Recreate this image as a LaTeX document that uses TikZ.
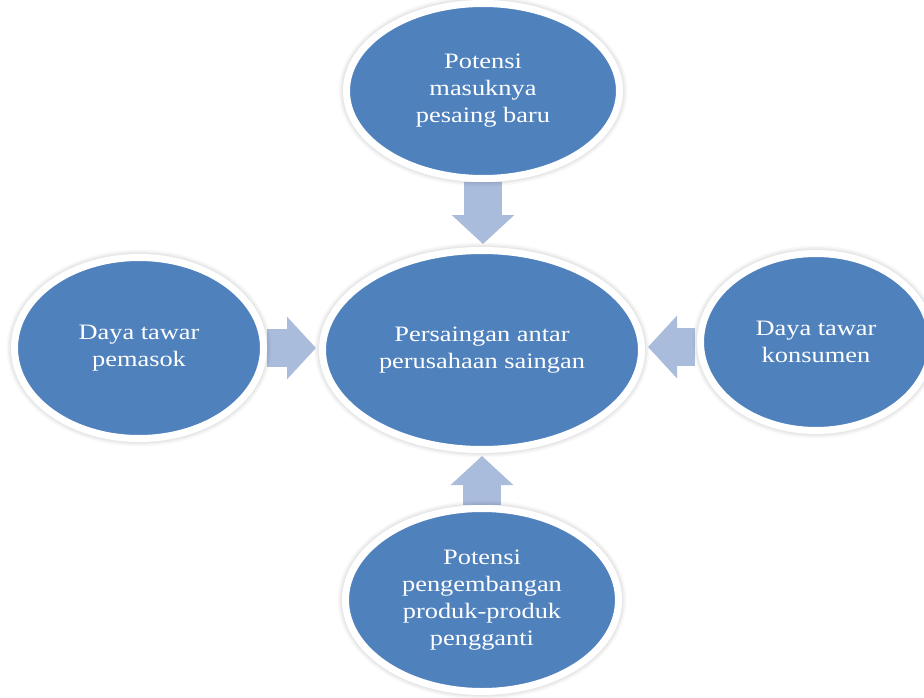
\documentclass[tikz,border=0pt]{standalone}
\usepackage{fontspec}
\setmainfont[FakeStretch=1.2]{Liberation Serif}
\usetikzlibrary{arrows.meta,calc,shapes.geometric}
\definecolor{ellblue}{RGB}{79,129,189}
\definecolor{arrowblue}{RGB}{169,188,220}
\pgfdeclarelayer{background}
\pgfsetlayers{background,main}
\begin{document}
\begin{tikzpicture}[x=1pt,y=-1pt,
  bubble/.style={ellipse, fill=ellblue, draw=white, line width=7pt, inner sep=0pt,
     align=center, text=white, font=\fontsize{22}{27}\selectfont,
     preaction={draw=black, draw opacity=0.025, line width=16pt},
     preaction={draw=black, draw opacity=0.03, line width=13pt},
     preaction={draw=black, draw opacity=0.04, line width=10pt}},
  blockarrow/.style={draw=arrowblue, line width=38pt,
     -{Triangle[width=61pt,length=29pt]}, shorten >=3pt}]
\useasboundingbox (0,0) rectangle (924,698);
\node[bubble, minimum width=273pt, minimum height=175pt] (top) at (483,91)
  {Potensi\\masuknya\\pesaing baru};
\node[bubble, minimum width=319pt, minimum height=199pt] (center) at (482,350)
  {Persaingan antar\\perusahaan saingan};
\node[bubble, minimum width=249pt, minimum height=181pt] (left) at (139,348)
  {Daya tawar\\pemasok};
\node[bubble, minimum width=231pt, minimum height=177pt] (right) at (816,342)
  {Daya tawar\\konsumen};
\node[bubble, minimum width=273pt, minimum height=183pt] (bottom) at (482,600)
  {Potensi\\pengembangan\\produk-produk\\pengganti};
\begin{pgfonlayer}{background}
\fill[white] (0,0) rectangle (924,698);
\draw[blockarrow] (top.south) -- (top.south |- center.north);
\draw[blockarrow] (bottom.north) -- (bottom.north |- center.south);
\draw[blockarrow] (left.east) -- (left.east -| center.west);
\draw[blockarrow] ([xshift=-2pt,yshift=-5pt]right.west) -- ([yshift=-5pt]right.west -| center.east);
\end{pgfonlayer}
\end{tikzpicture}
\end{document}
